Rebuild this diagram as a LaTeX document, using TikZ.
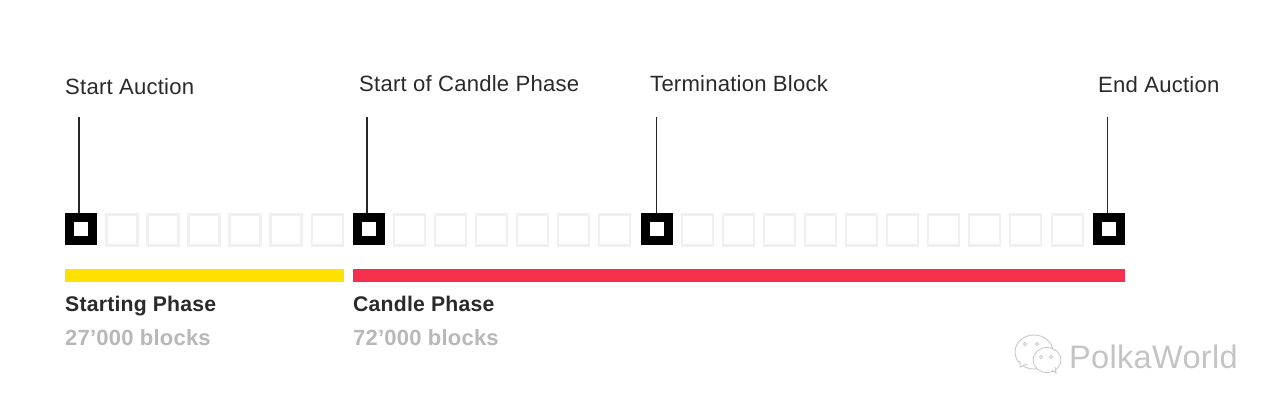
\documentclass[tikz,border=0pt]{standalone}
\usepackage{fontspec}
\setmainfont{Liberation Sans}[LetterSpace=1]
\definecolor{txt}{HTML}{2A2A2A}
\definecolor{cell}{HTML}{F0F0F0}
\definecolor{yel}{HTML}{FFE100}
\definecolor{rd}{HTML}{F5304C}
\definecolor{sub}{HTML}{B8B8B8}
\definecolor{wm}{HTML}{C4C4C4}
\tikzset{
  x=1pt,y=-1pt,
  marker/.style={draw=black,line width=9pt,fill=white,minimum size=23pt,inner sep=0pt,outer sep=4.5pt},
  cellbox/.style={draw=cell,line width=2.2pt,fill=white,minimum size=31pt,inner sep=0pt,outer sep=0pt},
  lbl/.style={anchor=base west,inner sep=0pt,text=txt,font=\fontsize{22.1}{24}\selectfont},
  head/.style={anchor=base west,inner sep=0pt,text=txt,font=\fontsize{21.2}{24}\selectfont\bfseries},
  subh/.style={anchor=base west,inner sep=0pt,text=sub,font=\fontsize{22}{24}\selectfont\bfseries},
  stem/.style={draw=black!85,line width=1.8pt},
  phase/.style={draw=none,inner sep=0pt,outer sep=0pt,minimum height=12.4pt,anchor=north west},
  wmk/.style={draw=wm,line width=0.8pt,fill=white}
}
\begin{document}
\begin{tikzpicture}
\useasboundingbox (0,0) rectangle (1280,411);
\fill[white] (0,0) rectangle (1280,411);
% grey cells
\foreach \i/\x in {a1/122,a2/163,a3/204,a4/245,a5/286,a6/327.5,
  b1/409.5,b2/450.5,b3/491.5,b4/532.5,b5/573.5,b6/614.5,
  c1/697.5,c2/738.5,c3/779.5,c4/820.5,c5/861.5,c6/902.5,c7/943.5,c8/984.5,c9/1025.5,c10/1067.5}
  \node[cellbox] (\i) at (\x,230) {};
% markers
\node[marker] (m1) at (81,229) {};
\node[marker] (m2) at (369,229) {};
\node[marker] (m3) at (657,229) {};
\node[marker] (m4) at (1109,229) {};
% stem tops
\coordinate (t1) at (79,117);
\coordinate (t2) at (367,117);
\coordinate (t3) at (656.5,117);
\coordinate (t4) at (1107.5,117);
\draw[stem] (t1) -- (t1 |- m1.north);
\draw[stem] (t2) -- (t2 |- m2.north);
\draw[stem] (t3) -- (t3 |- m3.north);
\draw[stem] (t4) -- (t4 |- m4.north);
% labels
\node[lbl] (l1) at (65,95) {Start Auction};
\node[lbl] (l2) at (359,92) {Start of Candle Phase};
\node[lbl] (l3) at (650,92) {Termination Block};
\node[lbl] (l4) at (1098,93) {End Auction};
% phase bars
\node[phase,fill=yel,minimum width=278.5pt] (p1) at (65,269.4) {};
\node[phase,fill=rd,minimum width=772pt] (p2) at (353,269.4) {};
\node[head] (h1) at (65,312) {Starting Phase};
\node[head] (h2) at (353,312) {Candle Phase};
\node[subh] (s1) at (65,346) {27’000 blocks};
\node[subh] (s2) at (353,346) {72’000 blocks};
% watermark
\draw[wmk] (1034,352) ellipse (19 and 17);
\draw[wmk] (1020,361) -- (1020,367) -- (1027,364);
\draw[wmk] (1047,360) ellipse (14 and 12.5);
\draw[wmk] (1052,370) -- (1056,373) -- (1055,367);
\foreach \p in {{1025,344},{1037,344},{1041,357},{1051,357}}
  \draw[wm,line width=0.6pt] (\p) circle (1.6);
\node[anchor=base west,inner sep=0pt,text=wm,font=\fontsize{32.5}{36}\selectfont] (w) at (1069,369) {PolkaWorld};
\end{tikzpicture}
\end{document}
